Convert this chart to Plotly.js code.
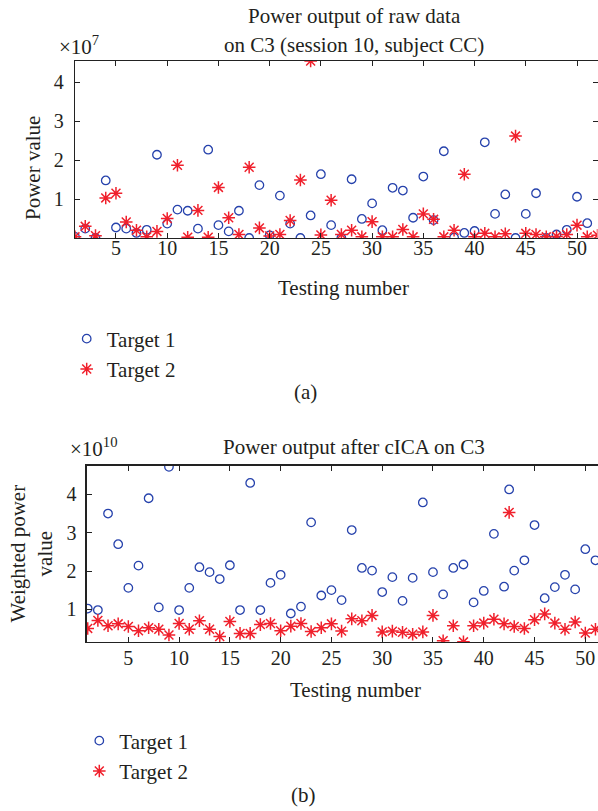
<!DOCTYPE html>
<html>
<head>
<meta charset="utf-8">
<script src="https://cdn.plot.ly/plotly-3.0.1.min.js"></script>
<style>html,body{margin:0;padding:0;background:#fff;}#chart{width:598px;height:811px;}</style>
</head>
<body>
<div id="chart"></div>
<script>
// ---- Data (a): raw power, in units of 1e7 ----
var rawT1X = [1,2,3,4,5,6,7,8,9,10,11,12,13,14,15,16,17,18,19,20,21,22,23,24,25,26,27,28,29,30,31,32,33,34,35,36,37,38,39,40,41,42,43,44,45,46,47,48,49,50,51];
var rawT1 = [0.03,0.24,0.00,1.48,0.27,0.24,0.13,0.21,2.14,0.37,0.73,0.70,0.24,2.27,0.33,0.17,0.70,0.00,1.36,0.07,1.09,0.37,0.00,0.58,1.64,0.33,0.00,1.51,0.49,0.89,0.20,1.29,1.22,0.52,1.58,0.46,2.23,0.01,0.13,0.18,2.46,0.62,1.12,0.00,0.62,1.15,0.00,0.09,0.21,1.06,0.38];
var rawT2X = [1,2,3,4,5,6,7,8,9,10,11,12,13,14,15,16,17,18,19,20,21,22,23,24,25,26,27,28,29,30,31,32,33,34,35,36,37,38,39,40,41,42,43,44,45,46,47,48,49,50,51,52];
var rawT2 = [0.03,0.30,0.06,1.03,1.15,0.41,0.20,0.03,0.17,0.50,1.87,0.02,0.71,0.02,1.30,0.52,0.09,1.82,0.26,0.05,0.09,0.45,1.49,4.55,0.08,0.97,0.09,0.20,0.03,0.42,0.03,0.03,0.22,0.03,0.62,0.48,0.03,0.20,1.64,0.03,0.12,0.03,0.11,2.62,0.12,0.09,0.03,0.04,0.09,0.33,0.03,0.07];

// ---- Data (b): weighted power after cICA, in units of 1e10 ----
var icaX = [1,2,3,4,5,6,7,8,9,10,11,12,13,14,15,16,17,18,19,20,21,22,23,24,25,26,27,28,29,30,31,32,33,34,35,36,37,38,39,40,41,42,42.5,43,44,45,46,47,48,49,50,51];
var icaT1 = [1.02,0.98,3.50,2.70,1.56,2.14,3.90,1.05,4.72,0.98,1.56,2.10,1.97,1.79,2.15,0.98,4.30,0.98,1.69,1.90,0.89,1.07,3.27,1.36,1.50,1.24,3.07,2.08,2.01,1.45,1.84,1.22,1.82,3.79,1.97,1.39,2.08,2.17,1.18,1.48,2.97,1.59,4.13,2.01,2.28,3.20,1.29,1.58,1.90,1.52,2.57,2.28];
var icaT2 = [0.50,0.71,0.57,0.62,0.55,0.44,0.52,0.48,0.33,0.63,0.48,0.70,0.48,0.29,0.68,0.37,0.37,0.60,0.63,0.44,0.56,0.63,0.42,0.52,0.62,0.43,0.75,0.70,0.84,0.41,0.43,0.40,0.35,0.41,0.84,0.18,0.57,0.15,0.57,0.64,0.74,0.62,3.53,0.55,0.50,0.73,0.88,0.64,0.48,0.67,0.38,0.48];

var tickVals = [5,10,15,20,25,30,35,40,45,50];
var tickText = ['5','10','15','20','25','30','35','40','45','50'];
var seriesNames = ['Target 1', 'Target 2'];

var W = 598, H = 811;
var FONT = 'Liberation Serif, Times New Roman, serif';
var TXT = '#231f20';
var BLUE = 'rgb(38,66,172)';
var RED = 'rgb(240,32,44)';
function px(x){ return x / W; }
function py(y){ return 1 - y / H; }

function circ(x, y, xa, ya, leg, show){
  return {x:x, y:y, xaxis:xa, yaxis:ya, type:'scatter', mode:'markers', name:seriesNames[0],
    legend:leg, showlegend:show,
    marker:{symbol:'circle-open', size:8.5, color:BLUE, line:{color:BLUE, width:1.3}}};
}
function star(x, y, xa, ya, leg, show){
  return {x:x, y:y, xaxis:xa, yaxis:ya, type:'scatter', mode:'markers', name:seriesNames[1],
    legend:leg, showlegend:show,
    marker:{symbol:'asterisk-open', size:10.5, color:RED, line:{color:RED, width:1.5}}};
}

var traces = [
  circ(rawT1X, rawT1, 'x', 'y', 'legend', true),
  star(rawT2X, rawT2, 'x', 'y', 'legend', true),
  circ(icaX, icaT1, 'x2', 'y2', 'legend2', true),
  star(icaX, icaT2, 'x2', 'y2', 'legend2', true)
];

function xax(domain, range, anchor, standoff){
  return {domain:domain, range:range, anchor:anchor, tickmode:'array', tickvals:tickVals, ticktext:tickText,
    ticks:'inside', ticklen:5, tickwidth:1, tickcolor:'#222', showline:true, linecolor:'#222', linewidth:1.3,
    mirror:'ticks', showgrid:false, zeroline:false, ticklabelstandoff:standoff,
    tickfont:{family:FONT, size:20, color:TXT}};
}
function yax(domain, range, anchor, mirror, standoff){
  return {domain:domain, range:range, anchor:anchor, tickmode:'array', tickvals:[1,2,3,4], ticktext:['1','2','3','4'],
    ticks:'inside', ticklen:5, tickwidth:1, tickcolor:'#222', showline:true, linecolor:'#222', linewidth:1.3,
    mirror:mirror, showgrid:false, zeroline:false, ticklabelstandoff:standoff,
    tickfont:{family:FONT, size:20, color:TXT}};
}

function ann(text, x, y, opts){
  var a = {text:text, x:px(x), y:py(y), xref:'paper', yref:'paper', showarrow:false,
    xanchor:'center', yanchor:'middle', font:{family:FONT, size:21, color:TXT}};
  for (var k in opts) a[k] = opts[k];
  return a;
}

var layout = {
  width:W, height:H, margin:{l:0, r:0, t:0, b:0}, paper_bgcolor:'#fff', plot_bgcolor:'#fff',
  font:{family:FONT, size:20, color:TXT},
  xaxis: xax([px(75), px(597.5)], [1, 52], 'y', -8),
  yaxis: yax([py(238), py(61)], [0, 4.55], 'x', 'ticks', 6),
  xaxis2: xax([px(86.7), 1], [0.9, 51.25], 'y2', -2),
  yaxis2: yax([py(642), py(465.7)], [0.146, 4.75], 'x2', false, 5),
  legend: {x:px(66.7), y:py(354), xanchor:'left', yanchor:'middle', bgcolor:'rgba(0,0,0,0)',
    font:{family:FONT, size:21, color:TXT}, tracegroupgap:0},
  legend2: {x:px(79.3), y:py(756), xanchor:'left', yanchor:'middle', bgcolor:'rgba(0,0,0,0)',
    font:{family:FONT, size:21, color:TXT}, tracegroupgap:0},
  annotations: [
    ann('Power output of raw data', 354, 16),
    ann('on C3 (session 10, subject CC)', 354, 45),
    ann('×10<sup>7</sup>', 57, 46, {xanchor:'left'}),
    ann('Power value', 33, 168, {textangle:-90}),
    ann('Testing number', 344, 288),
    ann('(a)', 305, 392),
    ann('Power output after cICA on C3', 354, 447),
    ann('×10<sup>10</sup>', 68, 447, {xanchor:'left'}),
    ann('Weighted power<br>value', 30.5, 554, {textangle:-90}),
    ann('Testing number', 355, 690),
    ann('(b)', 303, 795)
  ]
};

Plotly.newPlot('chart', traces, layout, {displayModeBar:false, staticPlot:true});
</script>
</body>
</html>
